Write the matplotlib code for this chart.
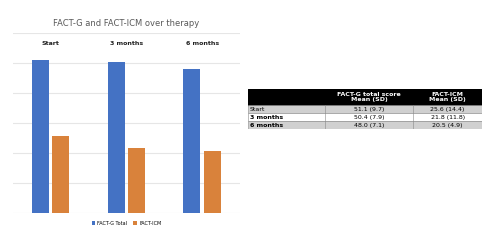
import numpy as np
import matplotlib
matplotlib.use('Agg')
import matplotlib.pyplot as plt

# données
periods = ['Start', '3 months', '6 months']
fact_g = [51.1, 50.4, 48.0]
fact_icm = [25.6, 21.8, 20.5]
fact_g_sd = [9.7, 7.9, 7.1]
fact_icm_sd = [14.4, 11.8, 4.9]

BLUE = '#4472C4'
ORANGE = '#D9823B'

fig = plt.figure(figsize=(4.96, 2.44), dpi=100)

# ─── graphique en barres ───
ax = fig.add_axes([0.026, 0.127, 0.458, 0.738])
x = np.arange(len(periods))
w = 0.225
ax.bar(x - 0.135, fact_g, w, color=BLUE, label='FACT-G Total', zorder=3)
ax.bar(x + 0.135, fact_icm, w, color=ORANGE, label='FACT-ICM', zorder=3)
ax.set_xlim(-0.5, 2.5)
ax.set_ylim(0, 60)
ax.set_yticks(np.arange(0, 61, 10))
ax.yaxis.grid(True, color='#e6e6e6', lw=0.8, zorder=0)
ax.tick_params(left=False, bottom=False, labelleft=False, labelbottom=False)
for s in ax.spines.values():
    s.set_visible(False)
for i, p in enumerate(periods):
    ax.text(i, 56.5, p, ha='center', va='center', fontsize=4.5,
            fontweight='bold', color='#222222')
ax.set_title('FACT-G and FACT-ICM over therapy', fontsize=6, color='#595959', pad=5)
ax.legend(loc='upper center', bbox_to_anchor=(0.5, -0.02), ncol=2, frameon=False,
          fontsize=3.5, handlelength=0.8, handleheight=0.8, columnspacing=1.2,
          handletextpad=0.4)

# ─── tableau ───
tax = fig.add_axes([0.5, 0.471, 0.472, 0.164])
tax.set_xlim(0, 234)
tax.set_ylim(40, 0)
tax.axis('off')

col_x = [0, 77, 165, 234]
row_y = [0, 16, 24, 32, 40]
header = ['', 'FACT-G total score\nMean (SD)', 'FACT-ICM\nMean (SD)']
rows = [[periods[i], f'{fact_g[i]:.1f} ({fact_g_sd[i]})', f'{fact_icm[i]:.1f} ({fact_icm_sd[i]})']
        for i in range(len(periods))]
row_bg = ['#d0d0d0', '#ffffff', '#d0d0d0']
row_bold = [False, True, True]

tax.add_patch(plt.Rectangle((0, 0), 234, 16, color='black'))
for j in range(1, 3):
    tax.text((col_x[j] + col_x[j + 1]) / 2, 8, header[j], ha='center', va='center',
             fontsize=4.5, fontweight='bold', color='white', linespacing=1.2)
for i, r in enumerate(rows):
    y0, y1 = row_y[i + 1], row_y[i + 2]
    tax.add_patch(plt.Rectangle((0, y0), 234, y1 - y0, facecolor=row_bg[i],
                                edgecolor='#888888', lw=0.4))
    fw = 'bold' if row_bold[i] else 'normal'
    tax.text(2, (y0 + y1) / 2, r[0], ha='left', va='center', fontsize=4.5,
             fontweight=fw, color='black')
    for j in range(1, 3):
        tax.text((col_x[j] + col_x[j + 1]) / 2, (y0 + y1) / 2, r[j], ha='center',
                 va='center', fontsize=4.5, color='black')
for cx in col_x[1:3]:
    tax.plot([cx, cx], [16, 40], color='#888888', lw=0.4)

fig.savefig('out.png', dpi=100)
